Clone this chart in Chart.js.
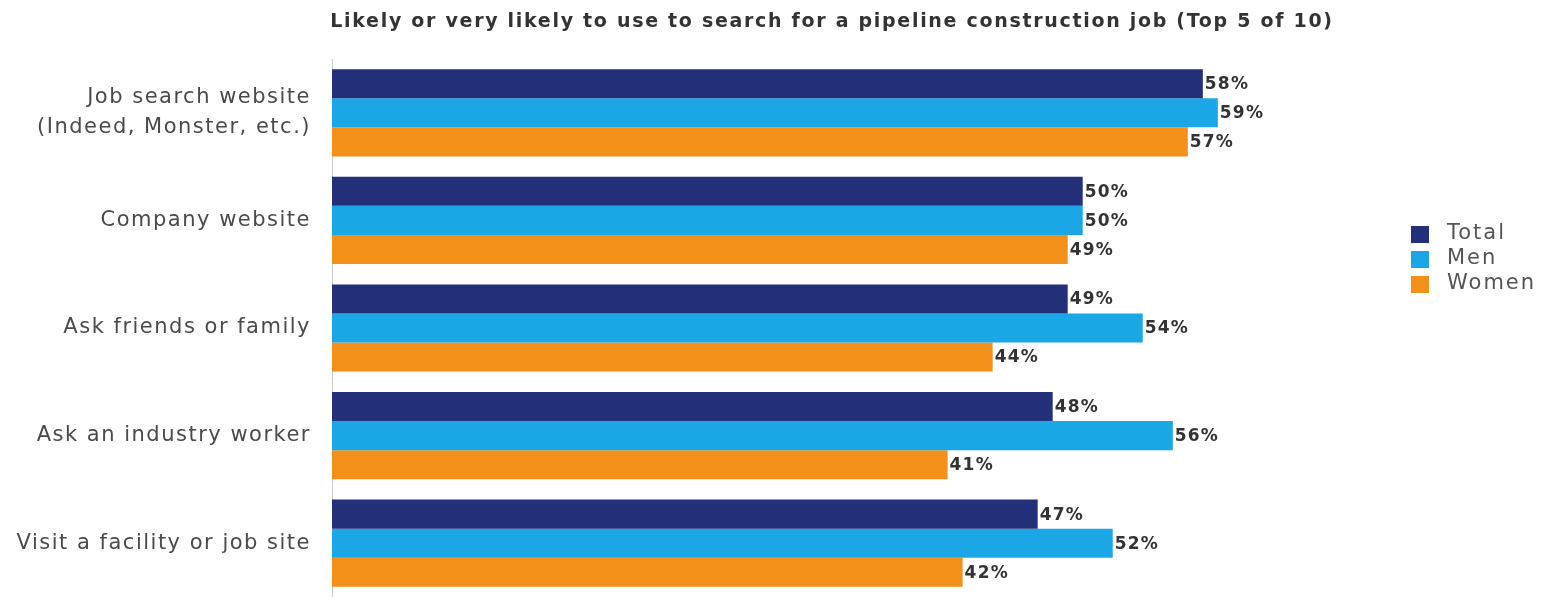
<!DOCTYPE html>
<html>
<head>
<meta charset="utf-8">
<script src="https://cdn.jsdelivr.net/npm/chart.js@4.4.1/dist/chart.umd.min.js"></script>
<style>
  html, body { margin: 0; padding: 0; background: #fff; overflow: hidden; }
  #wrap { width: 1543px; height: 597px; }
</style>
</head>
<body>
<div id="wrap"><canvas id="barChart" width="1543" height="597"></canvas></div>
<script>
// dados
const categories = [
  ['Job search website', '(Indeed, Monster, etc.)'],
  'Company website',
  'Ask friends or family',
  'Ask an industry worker',
  'Visit a facility or job site'
];
const seriesNames = ['Total', 'Men', 'Women'];
const totalValues = [58, 50, 49, 48, 47];
const menValues = [59, 50, 54, 56, 52];
const womenValues = [57, 49, 44, 41, 42];
const seriesColors = ['#232f78', '#1ba6e6', '#f2901a'];
const chartTitle = 'Likely or very likely to use to search for a pipeline construction job (Top 5 of 10)';

const FONT = '"DejaVu Sans", Arial, sans-serif';

// espaçamento entre letras (a fonte original é bem larga)
const spacing = {
  id: 'spacing',
  beforeUpdate(chart) { chart.ctx.letterSpacing = '1.5px'; },
  beforeDraw(chart) { chart.ctx.letterSpacing = '1.5px'; }
};

// rótulos de valor na ponta de cada barra
const valueLabels = {
  id: 'valueLabels',
  afterDatasetsDraw(chart) {
    const ctx = chart.ctx;
    ctx.save();
    ctx.letterSpacing = '1.2px';
    ctx.font = 'bold 17px ' + FONT;
    ctx.fillStyle = '#333';
    ctx.textAlign = 'left';
    ctx.textBaseline = 'middle';
    chart.data.datasets.forEach((ds, i) => {
      chart.getDatasetMeta(i).data.forEach((bar, j) => {
        ctx.fillText(ds.data[j] + '%', bar.x + 2, bar.y + 1);
      });
    });
    ctx.restore();
  }
};

// título e legenda desenhados à mão
const titleAndLegend = {
  id: 'titleAndLegend',
  afterDraw(chart) {
    const ctx = chart.ctx;
    ctx.save();
    ctx.letterSpacing = '1.7px';
    ctx.font = 'bold 19px ' + FONT;
    ctx.fillStyle = '#333';
    ctx.textAlign = 'center';
    ctx.textBaseline = 'middle';
    ctx.fillText(chartTitle, 832, 22);

    ctx.letterSpacing = '2px';
    ctx.font = '21px ' + FONT;
    ctx.textAlign = 'left';
    chart.data.datasets.forEach((ds, i) => {
      const y = 234 + i * 25;
      ctx.fillStyle = ds.backgroundColor;
      ctx.fillRect(1411, y - 8, 18, 17);
      ctx.fillStyle = '#555';
      ctx.fillText(ds.label, 1447, y);
    });
    ctx.restore();
  }
};

const ctx = document.getElementById('barChart').getContext('2d');
new Chart(ctx, {
  type: 'bar',
  data: {
    labels: categories,
    datasets: [
      { label: seriesNames[0], data: totalValues, backgroundColor: seriesColors[0] },
      { label: seriesNames[1], data: menValues, backgroundColor: seriesColors[1] },
      { label: seriesNames[2], data: womenValues, backgroundColor: seriesColors[2] }
    ]
  },
  options: {
    indexAxis: 'y',
    responsive: false,
    maintainAspectRatio: false,
    animation: false,
    layout: { padding: { top: 59, right: 160, bottom: 0, left: 0 } },
    datasets: { bar: { categoryPercentage: 0.81, barPercentage: 1.0 } },
    plugins: {
      legend: { display: false },
      title: { display: false },
      tooltip: { enabled: false }
    },
    scales: {
      x: {
        display: false,
        min: 0,
        max: 70
      },
      y: {
        grid: { display: false },
        border: { display: true, color: '#c8c8c8', width: 1 },
        afterFit(scale) {
          scale.width = 332;
          scale.paddingTop = 0;
          scale.paddingBottom = 0;
        },
        ticks: {
          padding: 13,
          color: '#4a4a4a',
          font: { family: FONT, size: 21, lineHeight: 1.45 }
        }
      }
    }
  },
  plugins: [spacing, valueLabels, titleAndLegend]
});
</script>
</body>
</html>
